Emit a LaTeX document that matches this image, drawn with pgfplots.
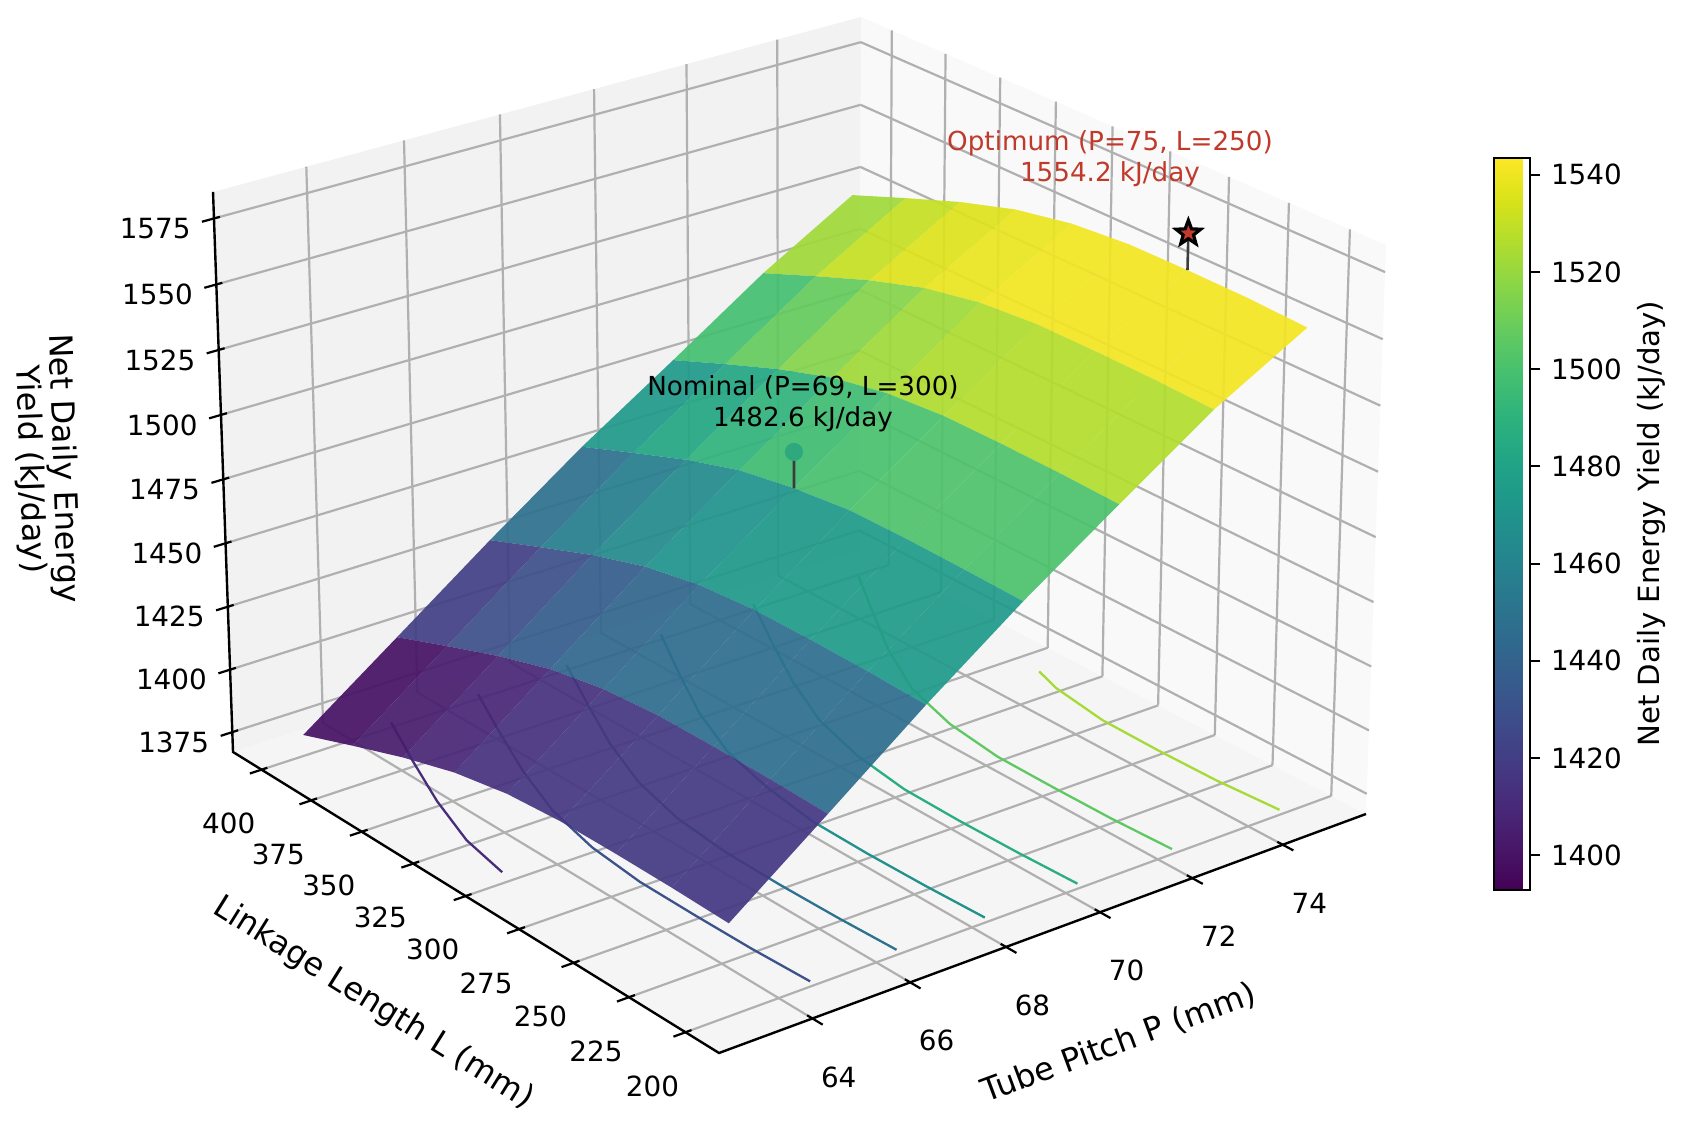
\documentclass[border=0pt]{standalone}
\usepackage{fontspec}
\setmainfont{DejaVu Sans}
\usepackage{pgfplots}
\pgfplotsset{compat=1.18}
% camera of the reference: central projection of the 3D axis
\makeatletter
\newdimen\perspW \newdimen\perspCx \newdimen\perspCy \newdimen\perspCz
\perspCx=5.0109pt \perspCy=0.38923pt \perspCz=-0.16881pt
\def\pgfplotsqpointxyz#1#2#3{%
  \perspW=847.29pt
  \advance\perspW by #1\perspCx
  \advance\perspW by #2\perspCy
  \advance\perspW by #3\perspCz
  \global\pgf@x=-1033.70pt
  \global\advance\pgf@x by #1\pgf@xx
  \global\advance\pgf@x by #2\pgf@yx
  \global\advance\pgf@x by #3\pgf@zx
  \global\pgf@y=-2490.89pt
  \global\advance\pgf@y by #1\pgf@xy
  \global\advance\pgf@y by #2\pgf@yy
  \global\advance\pgf@y by #3\pgf@zy
  \global\pgf@x=\dimexpr\pgf@x*65536000/\number\perspW\relax
  \global\pgf@y=\dimexpr\pgf@y*65536000/\number\perspW\relax
}
\makeatother
\pgfdeclareplotmark{fstar}{%
  \pgfpathmoveto{\pgfqpointpolar{90}{\pgfplotmarksize}}%
  \pgfpathlineto{\pgfqpointpolar{126}{0.42\pgfplotmarksize}}%
  \pgfpathlineto{\pgfqpointpolar{162}{\pgfplotmarksize}}%
  \pgfpathlineto{\pgfqpointpolar{198}{0.42\pgfplotmarksize}}%
  \pgfpathlineto{\pgfqpointpolar{234}{\pgfplotmarksize}}%
  \pgfpathlineto{\pgfqpointpolar{270}{0.42\pgfplotmarksize}}%
  \pgfpathlineto{\pgfqpointpolar{306}{\pgfplotmarksize}}%
  \pgfpathlineto{\pgfqpointpolar{342}{0.42\pgfplotmarksize}}%
  \pgfpathlineto{\pgfqpointpolar{18}{\pgfplotmarksize}}%
  \pgfpathlineto{\pgfqpointpolar{54}{0.42\pgfplotmarksize}}%
  \pgfpathclose\pgfusepathqfillstroke}
\definecolor{gridc}{HTML}{B0B0B0}
\definecolor{optc}{HTML}{C0392B}
\definecolor{nomc}{HTML}{2EA87D}
\definecolor{stemc}{HTML}{3C3C3C}
\definecolor{c1400}{HTML}{472D7B}
\definecolor{c1425}{HTML}{3B528B}
\definecolor{c1450}{HTML}{2C728E}
\definecolor{c1475}{HTML}{21918C}
\definecolor{c1500}{HTML}{28AE80}
\definecolor{c1525}{HTML}{5EC962}
\definecolor{c1550}{HTML}{A5DB36}
\newcommand\tickfont{\fontsize{13.9}{16.5}\selectfont}
\newcommand\labelfont{\fontsize{16}{16.6}\selectfont}
\newcommand\cblabelfont{\fontsize{14.6}{16.6}\selectfont}
\newcommand\notefont{\fontsize{13.1}{15.5}\selectfont}
\begin{document}
\begin{tikzpicture}
\useasboundingbox (0,0) rectangle (841.5pt,564.5pt);
\fill[fill={rgb,255:red,245;green,245;blue,245}] (359.5pt,38pt) -- (683pt,157.5pt) -- (429.65pt,289.9pt) -- (116.5pt,188.5pt) -- cycle;
\fill[fill={rgb,255:red,242;green,242;blue,242}] (116.5pt,188.5pt) -- (106.5pt,468.5pt) -- (430.5pt,556pt) -- (429.65pt,289.9pt) -- cycle;
\fill[fill={rgb,255:red,249;green,249;blue,249}] (683pt,157.5pt) -- (693pt,442pt) -- (430.5pt,556pt) -- (429.65pt,289.9pt) -- cycle;
\begin{axis}[
  disabledatascaling,
  x={(26.950pt,9.4804pt)}, y={(-1.01501pt,0.73010pt)}, z={(-0.067935pt,1.32007pt)},
  at={(359.5pt,38pt)}, anchor=origin,
  xmin=62.125, xmax=75.875, ymin=185.42, ymax=414.58, zmin=1367, zmax=1585,
  clip=false,
  axis line style={draw=none},
  grid=major,
  grid style={color=gridc, line width=1.1pt},
  xtick={64,66,68,70,72,74},
  ytick={200,225,250,275,300,325,350,375,400},
  ztick={1375,1400,1425,1450,1475,1500,1525,1550,1575},
  xtick pos=lower, ytick pos=lower, ztick pos=left,
  tick align=center,
  major tick length=8.5pt,
  tick style={draw=none},
  tick label style={font=\tickfont},
  /pgf/number format/assume math mode=true,
  /pgf/number format/1000 sep={},
  xticklabel style={anchor=center, xshift=9.2pt, yshift=-26.9pt},
  yticklabel style={anchor=center, xshift=-12.8pt, yshift=-25.6pt},
  zticklabel style={anchor=center, xshift=-26pt, yshift=-7pt},
  xlabel={Tube Pitch P (mm)},
  ylabel={Linkage Length L (mm)},
  zlabel={Net Daily Energy\\Yield (kJ/day)},
  every axis x label/.style={at={(559.5pt,43pt)}, anchor=center, rotate=20.3, font=\labelfont},
  every axis y label/.style={at={(186.75pt,62.75pt)}, anchor=center, rotate=-32, font=\labelfont},
  every axis z label/.style={at={(23pt,330pt)}, anchor=center, rotate=-88, align=center, font=\labelfont},
  colormap/viridis,
  point meta min=1392.9, point meta max=1543.5,
  colorbar,
  colorbar style={
    at={(738.4pt,119.6pt)}, anchor=south west, scale only axis,
    width=18.25pt, height=366pt,
    grid=none,
    ytick={1400,1420,1440,1460,1480,1500,1520,1540},
    ytick pos=right, yticklabel pos=right,
    yticklabel style={anchor=west, xshift=1.8pt, yshift=0pt, font=\tickfont},
    /pgf/number format/assume math mode=true,
    /pgf/number format/1000 sep={},
    tick style={draw=black, line width=1pt},
    tick align=outside,
    major tick length=5pt,
    axis line style={draw=black, line width=0.9pt},
    ylabel={Net Daily Energy Yield (kJ/day)},
    every axis y label/.style={at={(axis description cs:4.33,0.5)}, anchor=center, rotate=90, font=\cblabelfont},
  },
]
% axis edges
\addplot3[black, line width=1.2pt, forget plot] coordinates {(75.875,185.42,1367)(62.125,185.42,1367)(62.125,414.58,1367)(62.125,414.58,1585)};
% tick marks, along the neighbouring axis as in the reference
\pgfplotsinvokeforeach{64,66,68,70,72,74}{%
  \addplot3[black, line width=1.1pt, forget plot] coordinates {(#1,181,1367)(#1,187.7,1367)};}
\pgfplotsinvokeforeach{200,225,250,275,300,325,350,375,400}{%
  \addplot3[black, line width=1.1pt, forget plot] coordinates {(61.885,#1,1367)(62.245,#1,1367)};}
\pgfplotsinvokeforeach{1375,1400,1425,1450,1475,1500,1525,1550,1575}{%
  \addplot3[black, line width=1.1pt, forget plot] coordinates {(61.885,414.58,#1)(62.245,414.58,#1)};}
% contours on the floor
\addplot3[c1400, line width=1.15pt] coordinates {(63,303,1369)(63.22,325,1369)(63.68,350,1369)(64.24,375,1369)(64.83,400,1369)};
\addplot3[c1425, line width=1.15pt] coordinates {(64.64,200,1369)(64.59,225,1369)(64.58,250,1369)(64.59,275,1369)(64.72,300,1369)(65.01,325,1369)(65.49,350,1369)(66.07,375,1369)(66.68,400,1369)};
\addplot3[c1450, line width=1.15pt] coordinates {(66.42,200,1369)(66.37,225,1369)(66.35,250,1369)(66.37,275,1369)(66.50,300,1369)(66.81,325,1369)(67.32,350,1369)(67.95,375,1369)(68.60,400,1369)};
\addplot3[c1475, line width=1.15pt] coordinates {(68.27,200,1369)(68.22,225,1369)(68.20,250,1369)(68.22,275,1369)(68.41,300,1369)(68.72,325,1369)(69.26,350,1369)(69.95,375,1369)(70.68,400,1369)};
\addplot3[c1500, line width=1.15pt] coordinates {(70.25,200,1369)(70.20,225,1369)(70.18,250,1369)(70.20,275,1369)(70.38,300,1369)(70.73,325,1369)(71.32,350,1369)(72.02,375,1369)(72.76,400,1369)};
\addplot3[c1525, line width=1.15pt] coordinates {(72.31,200,1369)(72.25,225,1369)(72.24,250,1369)(72.25,275,1369)(72.42,300,1369)(72.79,325,1369)(73.46,350,1369)(74.28,375,1369)(75,396.5,1369)};
\addplot3[c1550, line width=1.15pt] coordinates {(74.70,200,1369)(74.60,225,1369)(74.58,250,1369)(74.60,275,1369)(74.80,300,1369)(75,311.4,1369)};
% surface
\addplot3[surf, shader=flat mean, opacity=0.92, draw opacity=0, mesh/ordering=y varies, point meta={1392.9+1.036*(\thisrow{E}-1392.9)}] table[x=P,y=L,z=E] {
P L E
63 200 1402.1
63 225 1402.7
63 250 1402.9
63 275 1402.7
63 300 1401.0
63 325 1397.0
63 350 1390.7
63 375 1383.2
63 400 1375.4

65 200 1430.0
65 225 1430.7
65 250 1430.9
65 275 1430.7
65 300 1428.9
65 325 1424.8
65 350 1418.2
65 375 1410.4
65 400 1402.3

67 200 1458.2
67 225 1458.9
67 250 1459.1
67 275 1458.9
67 300 1457.0
67 325 1452.7
67 350 1445.9
67 375 1437.7
67 400 1429.3

69 200 1484.7
69 225 1485.2
69 250 1485.5
69 275 1485.2
69 300 1482.6
69 325 1478.6
69 350 1471.8
69 375 1463.6
69 400 1455.2

71 200 1509.2
71 225 1509.9
71 250 1510.1
71 275 1509.9
71 300 1507.9
71 325 1503.4
71 350 1496.2
71 375 1487.7
71 400 1478.8

73 200 1533.3
73 225 1534.0
73 250 1534.2
73 275 1534.0
73 300 1532.0
73 325 1527.5
73 350 1520.3
73 375 1511.8
73 400 1502.9

75 200 1553.0
75 225 1554.0
75 250 1554.2
75 275 1554.0
75 300 1552.0
75 325 1547.6
75 350 1540.7
75 375 1532.4
75 400 1523.8
};
% nominal marker (seen through the surface in the reference), stems, optimum marker
\addplot3[only marks, mark=*, mark size=4.3pt, nomc, mark options={draw=none, fill=nomc}] coordinates {(69,300,1496.6)};
\addplot3[stemc, line width=1.3pt] coordinates {(69,300,1482.6)(69,300,1496.6)};
\addplot3[stemc, line width=1.3pt] coordinates {(75,250,1554.2)(75,250,1568.2)};
\addplot3[only marks, mark=fstar, mark size=6.5pt, mark options={fill=optc, draw=black, line width=1.6pt}] coordinates {(75,250,1568.2)};
\end{axis}
\node[align=center, text=black, font=\notefont] at (401.5pt,362.4pt) {Nominal (P=69, L=300)\\1482.6 kJ/day};
\node[align=center, text=optc, font=\notefont] at (555pt,485.1pt) {Optimum (P=75, L=250)\\1554.2 kJ/day};
\end{tikzpicture}
\end{document}
